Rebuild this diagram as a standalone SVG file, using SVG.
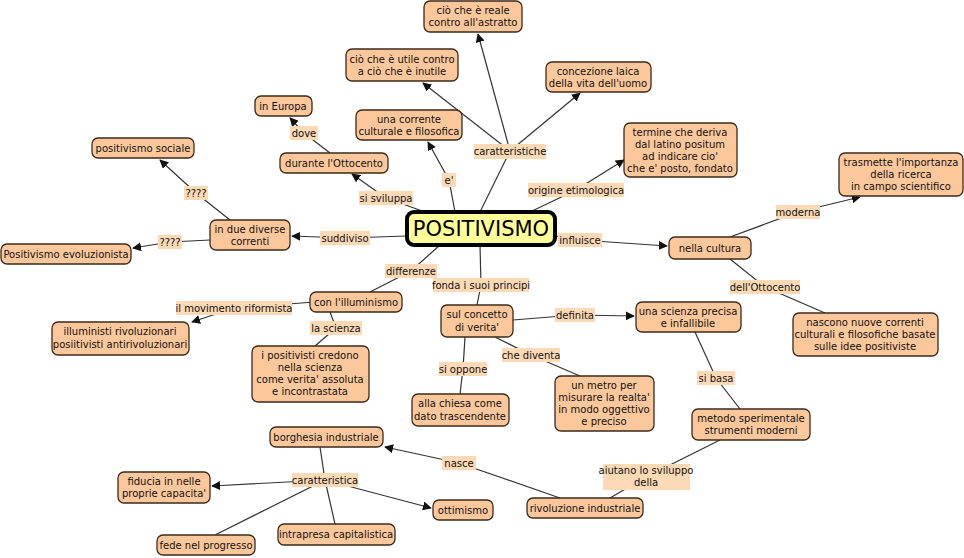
<svg xmlns="http://www.w3.org/2000/svg" width="964" height="558" viewBox="0 0 964 558">
<style>
.n rect{fill:#fcc89b;stroke:#3a2a1a;stroke-width:1.3}
.n text,.l text{font-family:"DejaVu Sans",Verdana,sans-serif;font-size:10px;fill:#111;text-anchor:middle}
.l rect{fill:#fdd9b5}
.c line,.c polyline{stroke:#333;stroke-width:1.2;fill:none}
.a{marker-end:url(#ar)}
</style>
<defs><marker id="ar" viewBox="0 0 10 10" refX="9" refY="5" markerWidth="9" markerHeight="9" orient="auto" markerUnits="userSpaceOnUse"><path d="M0,0L10,5L0,10z" fill="#111"/></marker></defs>
<rect width="964" height="558" fill="#fff"/>
<g class="c">
<line x1="480" y1="212" x2="510" y2="151"/>
<line class="a" x1="510" y1="151" x2="478" y2="34"/>
<line class="a" x1="510" y1="151" x2="423" y2="83"/>
<line class="a" x1="510" y1="151" x2="580" y2="93"/>
<polyline class="a" points="455,212 449,180 428,142"/>
<polyline class="a" points="425,212 386,198 352,174"/>
<polyline class="a" points="330,153 304,133 290,118"/>
<polyline class="a" points="407,236 345,238 292,236"/>
<polyline class="a" points="230,220 196,193 160,160"/>
<polyline class="a" points="210,240 170,242 133,248"/>
<polyline class="a" points="530,212 576,190 624,160"/>
<polyline class="a" points="556,236 580,240 667,246"/>
<polyline class="a" points="730,237 798,212 860,197"/>
<polyline points="730,259 765,287 825,313"/>
<polyline points="440,245 411,271 370,292"/>
<polyline class="a" points="315,302 234,308 192,322"/>
<polyline points="330,312 336,328 315,346"/>
<polyline points="480,245 481,285 477,305"/>
<polyline class="a" points="513,320 575,315 634,316"/>
<polyline points="495,337 531,355 580,376"/>
<polyline points="465,337 463,369 460,394"/>
<polyline points="695,332 716,378 740,409"/>
<polyline points="720,440 646,477 610,498"/>
<polyline class="a" points="560,498 459,463 385,447"/>
<line x1="320" y1="447" x2="325" y2="480"/>
<line class="a" x1="325" y1="480" x2="212" y2="486"/>
<line class="a" x1="325" y1="480" x2="431" y2="508"/>
<line x1="325" y1="480" x2="335" y2="524"/>
<line x1="325" y1="480" x2="215" y2="535"/>
</g>
<g class="l">
<g><rect x="474" y="144" width="72" height="15"/><text x="510" y="155">caratteristiche</text></g>
<g><rect x="442" y="173" width="14" height="14"/><text x="449" y="184">e'</text></g>
<g><rect x="359" y="191" width="54" height="14"/><text x="386" y="202">si sviluppa</text></g>
<g><rect x="290" y="126" width="28" height="14"/><text x="304" y="137">dove</text></g>
<g><rect x="184" y="186" width="24" height="14"/><text x="196" y="197">????</text></g>
<g><rect x="158" y="235" width="24" height="14"/><text x="170" y="246">????</text></g>
<g><rect x="320" y="231" width="50" height="14"/><text x="345" y="242">suddiviso</text></g>
<g><rect x="528" y="183" width="96" height="14"/><text x="576" y="194">origine etimologica</text></g>
<g><rect x="776" y="205" width="44" height="14"/><text x="798" y="216">moderna</text></g>
<g><rect x="558" y="233" width="44" height="14"/><text x="580" y="244">influisce</text></g>
<g><rect x="730" y="280" width="70" height="14"/><text x="765" y="291">dell'Ottocento</text></g>
<g><rect x="385" y="264" width="52" height="14"/><text x="411" y="275">differenze</text></g>
<g><rect x="433" y="278" width="96" height="14"/><text x="481" y="289">fonda i suoi principi</text></g>
<g><rect x="176" y="301" width="116" height="14"/><text x="234" y="312">il movimento riformista</text></g>
<g><rect x="310" y="321" width="52" height="14"/><text x="336" y="332">la scienza</text></g>
<g><rect x="555" y="308" width="40" height="14"/><text x="575" y="319">definita</text></g>
<g><rect x="502" y="348" width="58" height="14"/><text x="531" y="359">che diventa</text></g>
<g><rect x="439" y="362" width="48" height="14"/><text x="463" y="373">si oppone</text></g>
<g><rect x="697" y="371" width="38" height="14"/><text x="716" y="382">si basa</text></g>
<g><rect x="603" y="464" width="87" height="26"/><text x="646" y="474">aiutano lo sviluppo</text><text x="646" y="486">della</text></g>
<g><rect x="442" y="456" width="34" height="14"/><text x="459" y="467">nasce</text></g>
<g><rect x="292" y="473" width="66" height="14"/><text x="325" y="484">caratteristica</text></g>
</g>
<g id="positivismo"><rect x="407" y="212" width="148" height="33" rx="7" fill="#ffff99" stroke="#000" stroke-width="4"/><text x="481" y="236" font-family="DejaVu Sans,Verdana,sans-serif" font-size="21" text-anchor="middle">POSITIVISMO</text></g>
<g class="n">
<g id="reale"><rect x="424" y="1" width="98" height="31" rx="6"/><text x="473" y="14">ciò che è reale</text><text x="473" y="26">contro all'astratto</text></g>
<g id="utile"><rect x="346" y="49" width="112" height="32" rx="6"/><text x="402" y="63">ciò che è utile contro</text><text x="402" y="75">a ciò che è inutile</text></g>
<g id="laica"><rect x="546" y="62" width="105" height="30" rx="6"/><text x="598" y="75">concezione laica</text><text x="598" y="87">della vita dell'uomo</text></g>
<g id="europa"><rect x="255" y="96" width="57" height="20" rx="6"/><text x="283" y="110">in Europa</text></g>
<g id="corrente"><rect x="356" y="110" width="106" height="30" rx="6"/><text x="409" y="123">una corrente</text><text x="409" y="135">culturale e filosofica</text></g>
<g id="termine"><rect x="624" y="123" width="113" height="54" rx="6"/><text x="680" y="136">termine che deriva</text><text x="680" y="148">dal latino positum</text><text x="680" y="160">ad indicare cio'</text><text x="680" y="172">che e' posto, fondato</text></g>
<g id="sociale"><rect x="92" y="138" width="102" height="20" rx="6"/><text x="143" y="152">positivismo sociale</text></g>
<g id="ottocento"><rect x="280" y="153" width="108" height="20" rx="6"/><text x="334" y="167">durante l'Ottocento</text></g>
<g id="trasmette"><rect x="839" y="153" width="124" height="43" rx="6"/><text x="901" y="166">trasmette l'importanza</text><text x="901" y="178">della ricerca</text><text x="901" y="190">in campo scientifico</text></g>
<g id="correnti"><rect x="210" y="220" width="80" height="30" rx="6"/><text x="250" y="233">in due diverse</text><text x="250" y="245">correnti</text></g>
<g id="evoluzionista"><rect x="1" y="244" width="130" height="20" rx="6"/><text x="66" y="258">Positivismo evoluzionista</text></g>
<g id="cultura"><rect x="669" y="237" width="82" height="22" rx="6"/><text x="710" y="252">nella cultura</text></g>
<g id="illuminismo"><rect x="310" y="292" width="92" height="20" rx="6"/><text x="356" y="306">con l'illuminismo</text></g>
<g id="illuministi"><rect x="52" y="322" width="137" height="33" rx="6"/><text x="120" y="335">illuministi rivoluzionari</text><text x="120" y="348">posiitivisti antirivoluzionari</text></g>
<g id="verita"><rect x="441" y="305" width="72" height="32" rx="6"/><text x="477" y="318">sul concetto</text><text x="477" y="331">di verita'</text></g>
<g id="precisa"><rect x="636" y="302" width="105" height="30" rx="6"/><text x="688" y="315">una scienza precisa</text><text x="688" y="327">e infallibile</text></g>
<g id="nascono"><rect x="793" y="313" width="145" height="43" rx="6"/><text x="865" y="326">nascono nuove correnti</text><text x="865" y="338">culturali e filosofiche basate</text><text x="865" y="350">sulle idee positiviste</text></g>
<g id="credono"><rect x="252" y="346" width="117" height="56" rx="6"/><text x="310" y="359">i positivisti credono</text><text x="310" y="371">nella scienza</text><text x="310" y="383">come verita' assoluta</text><text x="310" y="395">e incontrastata</text></g>
<g id="metro"><rect x="555" y="376" width="99" height="55" rx="6"/><text x="604" y="389">un metro per</text><text x="604" y="401">misurare la realta'</text><text x="604" y="413">in modo oggettivo</text><text x="604" y="425">e preciso</text></g>
<g id="chiesa"><rect x="412" y="394" width="97" height="32" rx="6"/><text x="460" y="407">alla chiesa come</text><text x="460" y="420">dato trascendente</text></g>
<g id="metodo"><rect x="692" y="409" width="118" height="31" rx="6"/><text x="751" y="422">metodo sperimentale</text><text x="751" y="434">strumenti moderni</text></g>
<g id="borghesia"><rect x="270" y="427" width="113" height="20" rx="6"/><text x="326" y="441">borghesia industriale</text></g>
<g id="fiducia"><rect x="118" y="472" width="92" height="31" rx="6"/><text x="164" y="485">fiducia in nelle</text><text x="164" y="497">proprie capacita'</text></g>
<g id="ottimismo"><rect x="433" y="500" width="60" height="20" rx="6"/><text x="463" y="514">ottimismo</text></g>
<g id="rivoluzione"><rect x="527" y="498" width="116" height="20" rx="6"/><text x="585" y="512">rivoluzione industriale</text></g>
<g id="intrapresa"><rect x="278" y="524" width="117" height="21" rx="6"/><text x="336" y="538">intrapresa capitalistica</text></g>
<g id="fede"><rect x="157" y="535" width="98" height="20" rx="6"/><text x="206" y="549">fede nel progresso</text></g>
</g>
</svg>
